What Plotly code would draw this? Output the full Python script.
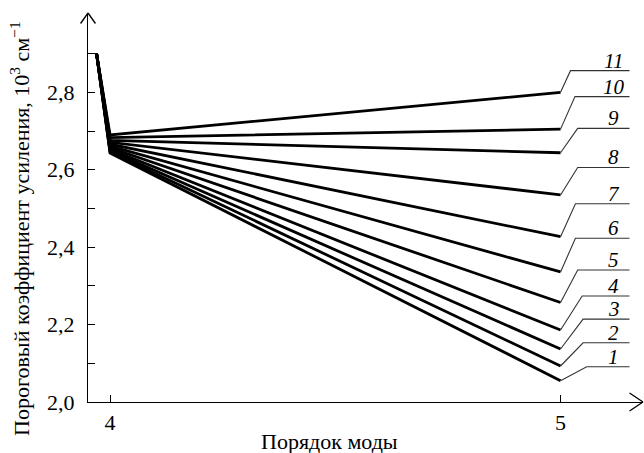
import plotly.graph_objects as go

# ---- data ----
modes = [3.97, 4, 5]
start_value = 2.9
series_names = ['1', '2', '3', '4', '5', '6', '7', '8', '9', '10', '11']
values_at_4 = [2.643, 2.646, 2.649, 2.653, 2.657, 2.661, 2.666, 2.671, 2.676, 2.683, 2.690]
values_at_5 = [2.055, 2.093, 2.137, 2.186, 2.257, 2.336, 2.427, 2.535, 2.644, 2.705, 2.800]

y_tick_vals = [2.0, 2.2, 2.4, 2.6, 2.8]
y_tick_text = ['2,0', '2,2', '2,4', '2,6', '2,8']
y_minor_vals = [2.1, 2.3, 2.5, 2.7, 2.9]
x_tick_vals = [4, 5]
x_tick_text = ['4', '5']

# ---- label leader layout ----
label_levels = [2.091, 2.153, 2.214, 2.274, 2.341, 2.423, 2.512, 2.606, 2.707, 2.789, 2.856]
knee_offsets = [0.058, 0.050, 0.050, 0.048, 0.038, 0.033, 0.033, 0.038, 0.038, 0.032, 0.022]
leader_end = 5.153
label_x = 5.118

FONT = 'Liberation Serif, Times New Roman, serif'
W, H = 644, 453
ML, MR, MT, MB = 88, 1, 13, 51

fig = go.Figure()

for name, v4, v5 in zip(series_names, values_at_4, values_at_5):
    fig.add_trace(go.Scatter(
        x=modes, y=[start_value, v4, v5], mode='lines',
        line=dict(color='black', width=2.8), name=name,
        showlegend=False, hoverinfo='skip'))

for name, v5, lvl, dx in zip(series_names, values_at_5, label_levels, knee_offsets):
    x_end = modes[-1]
    fig.add_trace(go.Scatter(
        x=[x_end, x_end + dx, leader_end], y=[v5, lvl, lvl], mode='lines',
        line=dict(color='#333333', width=1.1), showlegend=False, hoverinfo='skip'))
    fig.add_annotation(x=label_x, y=lvl, text='<i>' + name + '</i>', showarrow=False,
                       xanchor='center', yanchor='bottom', yshift=-4,
                       font=dict(family=FONT, size=21, color='black'))

# axis arrows (open chevrons) drawn as arrow-only annotations (pixel offsets)
def arm(x, y, ax, ay):
    fig.add_annotation(xref='paper', yref='paper', x=x, y=y, ax=ax, ay=ay,
                       axref='pixel', ayref='pixel', text='', showarrow=True,
                       arrowhead=0, arrowwidth=1.3, arrowcolor='black', standoff=0,
                       startstandoff=0)

arm(0, 1, -8.5, 12)
arm(0, 1, 8.5, 12)
arm(1, 0, -15, -10)
arm(1, 0, -15, 10)

# axis titles
fig.add_annotation(xref='paper', yref='paper', x=0.436, y=0, yshift=-25,
                   text='Порядок моды', showarrow=False, xanchor='center', yanchor='top',
                   font=dict(family=FONT, size=22, color='black'))
fig.add_annotation(xref='paper', yref='paper', x=0, xshift=-68, y=0.445,
                   text='Пороговый коэффициент усиления, 10<sup>3</sup> см<sup>−1</sup>',
                   showarrow=False, textangle=-90, xanchor='center', yanchor='middle',
                   font=dict(family=FONT, size=22, color='black'))

fig.update_layout(
    width=W, height=H,
    margin=dict(l=ML, r=MR, t=MT, b=MB),
    paper_bgcolor='white', plot_bgcolor='white',
    font=dict(family=FONT, size=22, color='black'),
    xaxis=dict(range=[3.951, 5.183], tickvals=x_tick_vals, ticktext=x_tick_text,
               ticks='inside', ticklen=7, tickcolor='black', tickwidth=1.2,
               showline=True, linecolor='black', linewidth=1.3,
               showgrid=False, zeroline=False, fixedrange=True,
               tickfont=dict(family=FONT, size=22)),
    yaxis=dict(range=[2.0, 3.005], tickvals=y_tick_vals, ticktext=y_tick_text,
               ticks='inside', ticklen=7, tickcolor='black', tickwidth=1.2,
               minor=dict(tickvals=y_minor_vals, ticks='inside', ticklen=7,
                          tickcolor='black', tickwidth=1.2),
               showline=True, linecolor='black', linewidth=1.3,
               showgrid=False, zeroline=False, fixedrange=True,
               ticklabelstandoff=8,
               tickfont=dict(family=FONT, size=22)),
)

fig.write_html('out.html', config={'displayModeBar': False},
               post_script="document.body.style.margin='0';")
